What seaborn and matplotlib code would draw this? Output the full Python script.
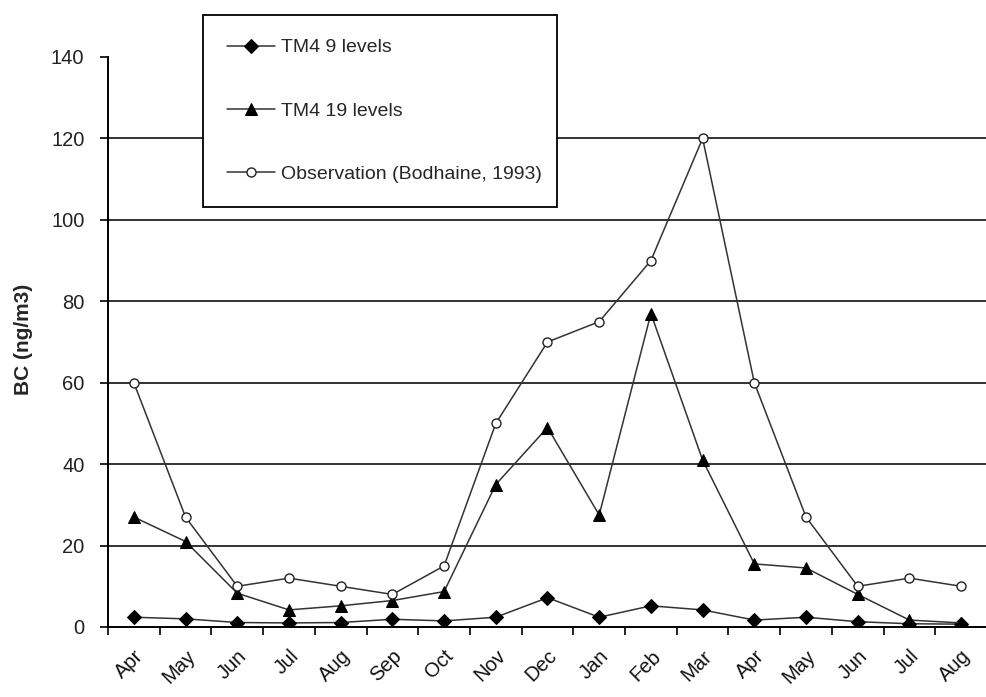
import matplotlib
matplotlib.use("Agg")
import matplotlib.pyplot as plt
import matplotlib.transforms as mtransforms
import seaborn as sns
import numpy as np
import pandas as pd

months = ["Apr", "May", "Jun", "Jul", "Aug", "Sep", "Oct", "Nov", "Dec",
          "Jan", "Feb", "Mar", "Apr", "May", "Jun", "Jul", "Aug"]
tm4_9 = [2.4, 2.0, 1.1, 1.0, 1.1, 1.9, 1.5, 2.4, 7.2, 2.4, 5.2, 4.2,
         1.7, 2.4, 1.3, 0.8, 0.7]
tm4_19 = [27, 21, 8.3, 4.2, 5.2, 6.5, 8.7, 35, 49, 27.5, 77, 41,
          15.5, 14.5, 8, 1.7, 1.0]
obs = [60, 27, 10, 12, 10, 8, 15, 50, 70, 75, 90, 120, 60, 27, 10, 12, 10]
yticks = [0, 20, 40, 60, 80, 100, 120, 140]

sns.set_style("white")
plt.rcParams['font.family'] = ['Liberation Sans', 'DejaVu Sans']

fig = plt.figure(figsize=(9.87, 6.97), dpi=100)
ax = fig.add_axes([108 / 987, 1 - 627 / 697, 1 - 108 / 987, (627 - 57) / 697])

x = np.arange(len(months))
df = pd.DataFrame({"x": x, "TM4 9 levels": tm4_9, "TM4 19 levels": tm4_19,
                   "Observation (Bodhaine, 1993)": obs})

for yv in yticks[1:-1]:
    ax.axhline(yv, color="#222222", lw=1.3, zorder=0)

line_col = "#333333"
sns.lineplot(data=df, x="x", y="TM4 9 levels", ax=ax, color=line_col, lw=1.1,
             marker="D", markersize=7, markerfacecolor="black",
             markeredgecolor="black", label="TM4 9 levels", zorder=3)
sns.lineplot(data=df, x="x", y="TM4 19 levels", ax=ax, color=line_col, lw=1.1,
             marker="^", markersize=9, markerfacecolor="black",
             markeredgecolor="black", label="TM4 19 levels", zorder=3)
sns.lineplot(data=df, x="x", y="Observation (Bodhaine, 1993)", ax=ax,
             color=line_col, lw=1.1, marker="o", markersize=6.5,
             markerfacecolor="white", markeredgecolor="#222222",
             markeredgewidth=1.0, label="Observation (Bodhaine, 1993)", zorder=3)

ax.set_xlim(-0.48, 16.33)
ax.set_ylim(0, 140)
ax.set_yticks(yticks)
ax.set_yticklabels([str(v) for v in yticks], fontsize=14.5, color="#222222")
ax.set_xticks(x)
ax.set_xticklabels(months, rotation=45, ha="right", rotation_mode="anchor",
                   fontsize=14.5, color="#111111")
offset = mtransforms.ScaledTranslation(4 / 100, 0, fig.dpi_scale_trans)
for lab in ax.get_xticklabels():
    lab.set_transform(lab.get_transform() + offset)
ax.set_xticks(np.arange(len(months) + 1) - 0.5, minor=True)
ax.tick_params(axis="x", which="major", length=0, pad=14)
ax.tick_params(axis="x", which="minor", length=6, width=1.2, color="black",
               direction="out", bottom=True)
ax.tick_params(axis="y", which="major", length=6, width=1.2, color="black",
               direction="out", left=True, pad=11)

for s in ["top", "right"]:
    ax.spines[s].set_visible(False)
for s in ["left", "bottom"]:
    ax.spines[s].set_color("black")
    ax.spines[s].set_linewidth(1.4)

ax.set_xlabel("")
ax.set_ylabel("BC (ng/m3)", fontsize=15, fontweight="bold")
ax.yaxis.set_label_coords(-0.085, 0.505)

leg = ax.legend(loc="upper left",
                bbox_to_anchor=(203 / 987, 1 - 15 / 697, 354 / 987, 0),
                bbox_transform=fig.transFigure, mode="expand",
                fontsize=14, frameon=True, fancybox=False, shadow=False,
                labelspacing=2.35, handlelength=2.5, handletextpad=0.3,
                borderpad=1.22, borderaxespad=0)
leg.get_frame().set_edgecolor("black")
leg.get_frame().set_linewidth(1.3)
leg.get_frame().set_facecolor("white")
leg.get_frame().set_alpha(1)
leg.set_zorder(10)

fig.savefig("out.png", dpi=100)
